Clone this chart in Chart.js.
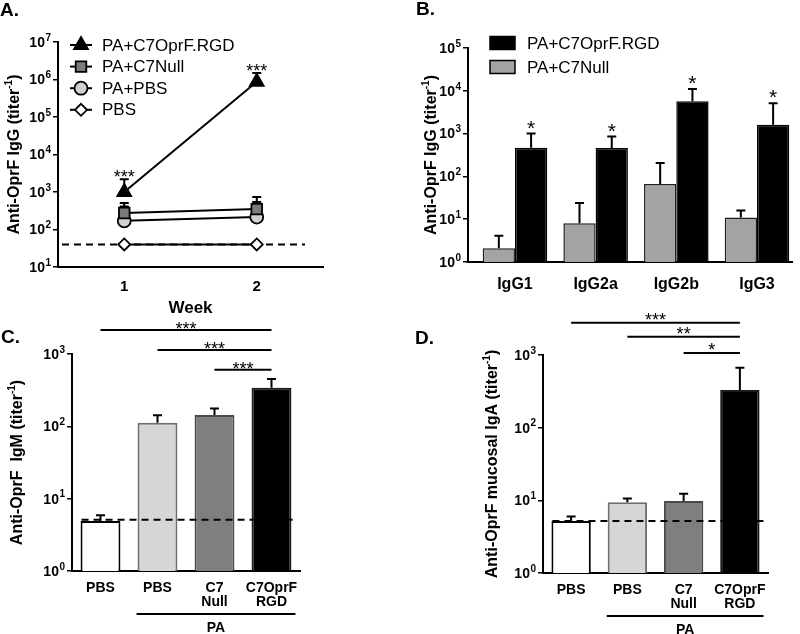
<!DOCTYPE html>
<html><head><meta charset="utf-8">
<script src="https://cdn.jsdelivr.net/npm/chart.js@4.4.1/dist/chart.umd.min.js"></script>
<style>
html,body{margin:0;padding:0;background:#fff;}
#wrap{position:relative;width:800px;height:634px;background:#fff;}
canvas{position:absolute;left:0;top:0;}
</style></head><body>
<div id="wrap">
<canvas id="cA" width="800" height="634"></canvas>
<canvas id="cB" width="800" height="634"></canvas>
<canvas id="cC" width="800" height="634"></canvas>
<canvas id="cD" width="800" height="634"></canvas>
</div>
<script>
// ---------- Panel A data ----------
const weeks = ['1', '2'];
const aNames = ['PA+C7OprF.RGD', 'PA+C7Null', 'PA+PBS', 'PBS'];
const aRGD = [1000, 870000];
const aRGDerr = [2200, 1500000];
const aNull = [275, 350];
const aNullErr = [510, 740];
const aPAPBS = [170, 215];
const aPAPBSErr = [410, 540];
const aPBS = [40, 40];
const aCutoff = 40;
const aSig = ['***', '***'];
const aTicks = [1e1, 1e2, 1e3, 1e4, 1e5, 1e6, 1e7];

// ---------- Panel B data ----------
const bCats = ['IgG1', 'IgG2a', 'IgG2b', 'IgG3'];
const bNames = ['PA+C7OprF.RGD', 'PA+C7Null'];
const bNull = [2.1, 8, 66, 11];
const bNullErr = [4.1, 24, 205, 16];
const bRGD = [470, 460, 5700, 1600];
const bRGDErr = [1000, 850, 11000, 5100];
const bSig = ['*', '*', '*', '*'];
const bTicks = [1e0, 1e1, 1e2, 1e3, 1e4, 1e5];

// ---------- Panel C data ----------
const groupLabels = ['PBS', 'PBS', ['C7', 'Null'], ['C7OprF', 'RGD']];
const cVals = [4.9, 112, 143, 342];
const cErr = [5.9, 142, 177, 450];
const cCutoff = 5.1;
const cSigFrom = [0, 1, 2];
const cSigTo = [3, 3, 3];
const cSigLevel = [2150, 1135, 605];
const cSigLabel = ['***', '***', '***'];
const cTicks = [1e0, 1e1, 1e2, 1e3];

// ---------- Panel D data ----------
const dVals = [5.2, 9.4, 9.8, 330];
const dErr = [6, 10.6, 12.3, 670];
const dCutoff = 5.2;
const dSigFrom = [0, 1, 2];
const dSigTo = [3, 3, 3];
const dSigLevel = [2780, 1780, 1065];
const dSigLabel = ['***', '**', '*'];
const dTicks = [1e0, 1e1, 1e2, 1e3];

// ---------- styles ----------
const FONT = '"Liberation Sans", Arial, Helvetica, sans-serif';
Chart.defaults.font.family = FONT;
Chart.defaults.color = '#000';
const aStyles = ['triangle', 'rect', 'circle', 'rectRot'];
const aFills = ['#000000', '#7b7b7b', '#d0d0d0', '#ffffff'];
const aRadius = [8, 7.5, 6.5, 6];
const barFills = ['#ffffff', '#d6d6d6', '#7f7f7f', '#000000'];
const barBorders = ['#000000', '#6e6e6e', '#4a4a4a', '#1a1a1a'];

function fnt(size, bold) { return (bold ? 'bold ' : '') + size + 'px ' + FONT; }

function drawLogLabels(chart, ticks) {
  const s = chart.scales.y, ctx = chart.ctx;
  ctx.save();
  ctx.fillStyle = '#000';
  ctx.textBaseline = 'middle';
  ctx.textAlign = 'left';
  ticks.forEach(v => {
    const y = s.getPixelForValue(v);
    const e = String(Math.round(Math.log10(v)));
    ctx.font = fnt(10, true);
    const ew = ctx.measureText(e).width;
    ctx.font = fnt(14, true);
    const bw = ctx.measureText('10').width;
    const xr = chart.chartArea.left - 7;
    ctx.fillText('10', xr - ew - 0.5 - bw, y + 1);
    ctx.font = fnt(10, true);
    ctx.fillText(e, xr - ew, y - 4);
  });
  ctx.restore();
}

function drawYTitle(chart, dx, main, sup, tail) {
  const ctx = chart.ctx, ca = chart.chartArea;
  const cx = ca.left - dx, cy = (ca.top + ca.bottom) / 2;
  ctx.save();
  ctx.translate(cx, cy);
  ctx.rotate(-Math.PI / 2);
  ctx.fillStyle = '#000';
  ctx.textBaseline = 'middle';
  ctx.textAlign = 'left';
  ctx.font = fnt(16, true);
  const w1 = ctx.measureText(main).width;
  const w3 = ctx.measureText(tail).width;
  ctx.font = fnt(10, true);
  const w2 = ctx.measureText(sup).width;
  let x = -(w1 + w2 + w3) / 2;
  ctx.font = fnt(16, true);
  ctx.fillText(main, x, 0); x += w1;
  ctx.font = fnt(10, true);
  ctx.fillText(sup, x, -6); x += w2;
  ctx.font = fnt(16, true);
  ctx.fillText(tail, x, 0);
  ctx.restore();
}

function drawText(ctx, txt, x, y, font, align, base) {
  ctx.save();
  ctx.fillStyle = '#000';
  ctx.font = font;
  ctx.textAlign = align || 'center';
  ctx.textBaseline = base || 'middle';
  ctx.fillText(txt, x, y);
  ctx.restore();
}

function drawMarker(ctx, style, x, y, r, fill, stroke, lw) {
  ctx.save();
  ctx.beginPath();
  if (style === 'triangle') {
    ctx.moveTo(x, y - r);
    ctx.lineTo(x + 0.866 * r, y + 0.5 * r);
    ctx.lineTo(x - 0.866 * r, y + 0.5 * r);
    ctx.closePath();
  } else if (style === 'rect') {
    const s = r * Math.SQRT1_2;
    ctx.rect(x - s, y - s, 2 * s, 2 * s);
  } else if (style === 'rectRot') {
    ctx.moveTo(x, y - r); ctx.lineTo(x + r, y); ctx.lineTo(x, y + r); ctx.lineTo(x - r, y);
    ctx.closePath();
  } else {
    ctx.arc(x, y, r, 0, Math.PI * 2);
  }
  ctx.fillStyle = fill; ctx.fill();
  ctx.lineWidth = lw; ctx.strokeStyle = stroke; ctx.stroke();
  ctx.restore();
}

function drawErr(ctx, x, y0, y1, cap) {
  ctx.save();
  ctx.strokeStyle = '#000';
  ctx.lineWidth = 2;
  ctx.beginPath();
  ctx.moveTo(x, y0); ctx.lineTo(x, y1);
  ctx.moveTo(x - cap / 2, y1); ctx.lineTo(x + cap / 2, y1);
  ctx.stroke();
  ctx.restore();
}

function drawLine(ctx, x1, x2, y, dashed) {
  ctx.save();
  ctx.strokeStyle = '#000';
  ctx.lineWidth = 2;
  if (dashed) ctx.setLineDash([7, 5]);
  ctx.beginPath();
  ctx.moveTo(x1, y); ctx.lineTo(x2, y);
  ctx.stroke();
  ctx.restore();
}

function yAxis(min, max, ticks) {
  return {
    type: 'logarithmic', min: min, max: max,
    afterBuildTicks: s => { s.ticks = ticks.map(v => ({ value: v })); },
    afterFit: s => { s.width = 6; },
    ticks: { display: false },
    grid: { display: true, drawOnChartArea: false, drawTicks: true, tickLength: 5, color: '#000', lineWidth: 1.5 },
    border: { display: true, color: '#000', width: 2 }
  };
}
function xAxisCat(size, pad, h) {
  return {
    type: 'category', offset: true,
    afterFit: s => { s.height = h; },
    grid: { display: false, drawTicks: false },
    border: { display: true, color: '#000', width: 2 },
    ticks: { font: { size: size, weight: 'bold', lineHeight: 1 }, color: '#000', padding: pad, maxRotation: 0, autoSkip: false }
  };
}
const baseOpts = {
  responsive: false, animation: false, devicePixelRatio: 1,
  events: [],
  plugins: { legend: { display: false }, tooltip: { enabled: false } }
};

// ---------- Panel A ----------
const aSeries = [aRGD, aNull, aPAPBS, aPBS];
const aErrs = [aRGDerr, aNullErr, aPAPBSErr, null];
const panelA = {
  id: 'panelA',
  beforeDatasetsDraw(chart) {
    const ctx = chart.ctx, y = chart.scales.y, ca = chart.chartArea;
    drawLine(ctx, ca.left + 4, ca.right - 18, y.getPixelForValue(aCutoff), true);
    aErrs.forEach((errs, d) => {
      if (!errs) return;
      const meta = chart.getDatasetMeta(d);
      errs.forEach((e, i) => {
        const p = meta.data[i];
        drawErr(ctx, p.x, p.y, y.getPixelForValue(e), 9);
      });
    });
  },
  afterDraw(chart) {
    const ctx = chart.ctx, y = chart.scales.y, ca = chart.chartArea;
    drawLogLabels(chart, aTicks);
    drawYTitle(chart, 43, 'Anti-OprF IgG (titer', '-1', ')');
    drawText(ctx, 'A.', 0, 11, fnt(19, true), 'left');
    drawText(ctx, 'Week', (ca.left + ca.right) / 2, 308, fnt(17, true));
    const meta = chart.getDatasetMeta(0);
    aSig.forEach((s, i) => {
      drawText(ctx, s, meta.data[i].x, y.getPixelForValue(aRGDerr[i]) + 4, fnt(18, false), 'center', 'alphabetic');
    });
    // legend
    aNames.forEach((n, i) => {
      const ly = ca.top + 3 + 21.6 * i;
      const lx = ca.left + 23;
      ctx.save(); ctx.strokeStyle = '#000'; ctx.lineWidth = 2;
      ctx.beginPath(); ctx.moveTo(lx - 11, ly); ctx.lineTo(lx + 11, ly); ctx.stroke(); ctx.restore();
      drawMarker(ctx, aStyles[i], lx, ly, aRadius[i], aFills[i], '#000', 1.8);
      drawText(ctx, n, ca.left + 44, ly + 1, fnt(17, false), 'left');
    });
  }
};
new Chart(document.getElementById('cA'), {
  type: 'line',
  data: {
    labels: weeks,
    datasets: aSeries.map((s, i) => ({
      label: aNames[i], data: s,
      borderColor: '#000', borderWidth: 2,
      pointStyle: aStyles[i], pointRadius: aRadius[i],
      pointBackgroundColor: aFills[i], pointBorderColor: '#000', pointBorderWidth: 1.8
    }))
  },
  options: Object.assign({}, baseOpts, {
    layout: { padding: { left: 52, right: 477, top: 42, bottom: 327 } },
    scales: { x: xAxisCat(15, 12, 40), y: yAxis(10, 1e7, aTicks) }
  }),
  plugins: [panelA]
});

// ---------- Panel B ----------
const panelB = {
  id: 'panelB',
  afterDatasetsDraw(chart) {
    const ctx = chart.ctx, y = chart.scales.y;
    [bNullErr, bRGDErr].forEach((errs, d) => {
      const meta = chart.getDatasetMeta(d);
      errs.forEach((e, i) => {
        const b = meta.data[i];
        drawErr(ctx, b.x, b.y, y.getPixelForValue(e), 9);
      });
    });
    const m1 = chart.getDatasetMeta(1);
    bSig.forEach((s, i) => {
      drawText(ctx, s, m1.data[i].x, y.getPixelForValue(bRGDErr[i]) + 1, fnt(21, false), 'center', 'alphabetic');
    });
  },
  afterDraw(chart) {
    const ctx = chart.ctx, ca = chart.chartArea;
    drawLogLabels(chart, bTicks);
    drawYTitle(chart, 36, 'Anti-OprF IgG (titer', '-1', ')');
    drawText(ctx, 'B.', 416, 10, fnt(19, true), 'left');
    const fills = ['#000', '#a3a3a3'];
    bNames.forEach((n, i) => {
      const ly = ca.top - 5 + 24 * i;
      ctx.save();
      ctx.fillStyle = fills[i]; ctx.fillRect(ca.left + 22, ly - 6.5, 25, 13);
      ctx.strokeStyle = '#000'; ctx.lineWidth = 1.5; ctx.strokeRect(ca.left + 22, ly - 6.5, 25, 13);
      ctx.restore();
      drawText(ctx, n, ca.left + 59, ly + 1, fnt(17, false), 'left');
    });
  }
};
new Chart(document.getElementById('cB'), {
  type: 'bar',
  data: {
    datasets: [
      { label: bNames[1], data: bNull.map((v, i) => ({ x: i, y: v })), backgroundColor: '#a3a3a3', borderColor: '#1e1e1e', borderWidth: 1.5, categoryPercentage: 0.8, barPercentage: 1 },
      { label: bNames[0], data: bRGD.map((v, i) => ({ x: i, y: v })), backgroundColor: '#000', borderColor: '#000', borderWidth: 1.5, categoryPercentage: 0.8, barPercentage: 1 }
    ]
  },
  options: Object.assign({}, baseOpts, {
    layout: { padding: { left: 462, right: 8, top: 48, bottom: 332 } },
    scales: {
      x: {
        type: 'linear', min: -0.582, max: 3.434, offset: false,
        afterBuildTicks: s => { s.ticks = bCats.map((c, i) => ({ value: i })); },
        afterFit: s => { s.height = 40; },
        grid: { display: false, drawTicks: false },
        border: { display: true, color: '#000', width: 2 },
        ticks: { font: { size: 16, weight: 'bold', lineHeight: 1 }, color: '#000', padding: 15, maxRotation: 0, autoSkip: false,
          callback: v => bCats[v] }
      },
      y: yAxis(1, 1e5, bTicks)
    }
  }),
  plugins: [panelB]
});

// ---------- Panels C & D ----------
function groupPanel(id, letter, letterX, letterY, vals, errs, cutoff, sigFrom, sigTo, sigLevel, sigLabel, ticks, titleDx, titleMain, pad, sigOff) {
  const plug = {
    id: 'panel' + letter,
    afterDatasetsDraw(chart) {
      const ctx = chart.ctx, y = chart.scales.y, ca = chart.chartArea;
      const meta = chart.getDatasetMeta(0);
      errs.forEach((e, i) => {
        const b = meta.data[i];
        drawErr(ctx, b.x, b.y, y.getPixelForValue(e), 9);
      });
      const b0 = meta.data[0];
      drawLine(ctx, b0.x - b0.width / 2 + 1, ca.right - 4, y.getPixelForValue(cutoff), true);
    },
    afterDraw(chart) {
      const ctx = chart.ctx, y = chart.scales.y, x = chart.scales.x, ca = chart.chartArea;
      drawLogLabels(chart, ticks);
      drawYTitle(chart, titleDx, titleMain, '-1', ')');
      drawText(ctx, letter + '.', letterX, letterY, fnt(19, true), 'left');
      sigLevel.forEach((lv, i) => {
        const x1 = x.getPixelForValue(sigFrom[i]), x2 = x.getPixelForValue(sigTo[i]);
        const yy = y.getPixelForValue(lv);
        drawLine(ctx, x1, x2, yy, false);
        drawText(ctx, sigLabel[i], (x1 + x2) / 2, yy + sigOff, fnt(18, false), 'center', 'alphabetic');
      });
      const meta = chart.getDatasetMeta(0);
      const b1 = meta.data[1], b3 = meta.data[3];
      const px1 = b1.x - b1.width / 2 - 1, px2 = b3.x + b3.width / 2 + 4;
      drawLine(ctx, px1, px2, ca.bottom + 43, false);
      drawText(ctx, 'PA', (px1 + px2) / 2, ca.bottom + 57, fnt(14, true));
    }
  };
  new Chart(document.getElementById(id), {
    type: 'bar',
    data: {
      labels: groupLabels,
      datasets: [{ data: vals, backgroundColor: barFills, borderColor: barBorders, borderWidth: 2, categoryPercentage: 1, barPercentage: 0.7 }]
    },
    options: Object.assign({}, baseOpts, {
      layout: { padding: pad },
      scales: { x: xAxisCat(14, 10, 50), y: yAxis(1, 1e3, ticks) }
    }),
    plugins: [plug]
  });
}
groupPanel('cC', 'C', 1, 338, cVals, cErr, cCutoff, cSigFrom, cSigTo, cSigLevel, cSigLabel, cTicks, 54,
  'Anti-OprF  IgM (titer', { left: 66, right: 500, top: 354, bottom: 13 }, 5);
groupPanel('cD', 'D', 415, 339, dVals, dErr, dCutoff, dSigFrom, dSigTo, dSigLevel, dSigLabel, dTicks, 50,
  'Anti-OprF mucosal IgA (titer', { left: 537, right: 32, top: 355, bottom: 11 }, 3);
</script>
</body></html>
